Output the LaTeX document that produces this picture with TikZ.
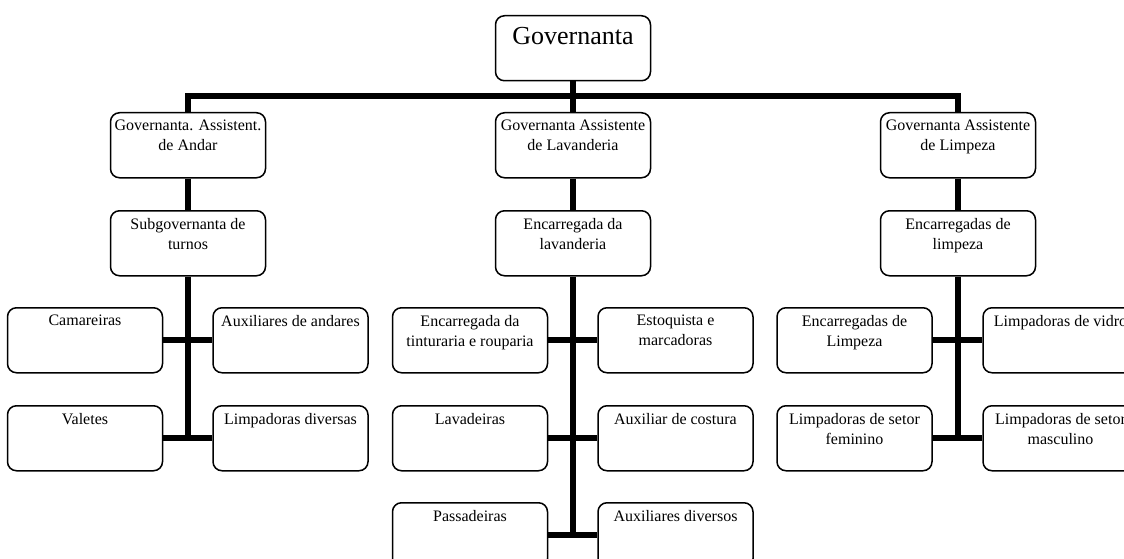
\documentclass[tikz,border=0pt]{standalone}
\usepackage{fontspec}
\setmainfont{Liberation Serif}
\begin{document}
\begin{tikzpicture}[x=1pt,y=-1pt,
  box/.style={draw, line width=1.5pt, rounded corners=9pt, minimum width=155pt, minimum height=65pt, inner sep=0pt, anchor=north},
  lbl/.style={anchor=north, inner sep=0pt, yshift=-8.2pt, align=center, font=\fontsize{16}{19.5}\selectfont},
  big/.style={anchor=north, inner sep=0pt, yshift=-12.4pt, align=center, font=\fontsize{26}{30}\selectfont},
  conn/.style={line width=6pt},
]
\useasboundingbox (0,0) rectangle (1124,559);
\clip (0,0) rectangle (1124,559);
% level 1
\node[box, label={[big]north:Governanta}] (gov) at (573,15) {};
% level 2
\node[box, label={[lbl]north:{Governanta. Assistent.\\de Andar}}] (a1) at (188,112) {};
\node[box, label={[lbl]north:{Governanta Assistente\\de Lavanderia}}] (b1) at (573,112) {};
\node[box, label={[lbl]north:{Governanta Assistente\\de Limpeza}}] (c1) at (958,112) {};
% level 3
\node[box, label={[lbl]north:{Subgovernanta de\\turnos}}] (a2) at (188,210) {};
\node[box, label={[lbl]north:{Encarregada da\\lavanderia}}] (b2) at (573,210) {};
\node[box, label={[lbl]north:{Encarregadas de\\limpeza}}] (c2) at (958,210) {};
% level 4 left
\node[box, label={[lbl]north:Camareiras}] (aL1) at (85,307) {};
\node[box, label={[lbl]north:Auxiliares de andares}] (aR1) at (290.5,307) {};
\node[box, label={[lbl]north:Valetes}] (aL2) at (85,405) {};
\node[box, label={[lbl]north:Limpadoras diversas}] (aR2) at (290.5,405) {};
% level 4 center
\node[box, label={[lbl]north:{Encarregada da\\tinturaria e rouparia}}] (bL1) at (470,307) {};
\node[box, label={[lbl]north:{Estoquista e\\marcadoras}}] (bR1) at (675.5,307) {};
\node[box, label={[lbl]north:Lavadeiras}] (bL2) at (470,405) {};
\node[box, label={[lbl]north:Auxiliar de costura}] (bR2) at (675.5,405) {};
\node[box, label={[lbl]north:Passadeiras}] (bL3) at (470,502) {};
\node[box, label={[lbl]north:Auxiliares diversos}] (bR3) at (675.5,502) {};
% level 4 right
\node[box, label={[lbl]north:{Encarregadas de\\Limpeza}}] (cL1) at (854.5,307) {};
\node[box, label={[lbl]north:Limpadoras de vidro}] (cR1) at (1060.5,307) {};
\node[box, label={[lbl]north:{Limpadoras de setor\\feminino}}] (cL2) at (854.5,405) {};
\node[box, label={[lbl]north:{Limpadoras de setor\\masculino}}] (cR2) at (1060.5,405) {};
% connectors
\coordinate (bar) at (573,96);
\draw[conn] (gov.south) -- (bar);
\draw[conn] (a1.north) -- (a1.north |- bar) -- (c1.north |- bar) -- (c1.north);
\draw[conn] (bar) -- (b1.north);
\draw[conn] (a1.south) -- (a2.north);
\draw[conn] (b1.south) -- (b2.north);
\draw[conn] (c1.south) -- (c2.north);
\draw[conn] (a2.south) -- (a2.south |- aL2.east);
\draw[conn] (b2.south) -- (b2.south |- bL3.east);
\draw[conn] (c2.south) -- (c2.south |- cL2.east);
\draw[conn] (aL1.east) -- (aR1.west);
\draw[conn] (aL2.east) -- (aR2.west);
\draw[conn] (bL1.east) -- (bR1.west);
\draw[conn] (bL2.east) -- (bR2.west);
\draw[conn] (bL3.east) -- (bR3.west);
\draw[conn] (cL1.east) -- (cR1.west);
\draw[conn] (cL2.east) -- (cR2.west);
\end{tikzpicture}
\end{document}
